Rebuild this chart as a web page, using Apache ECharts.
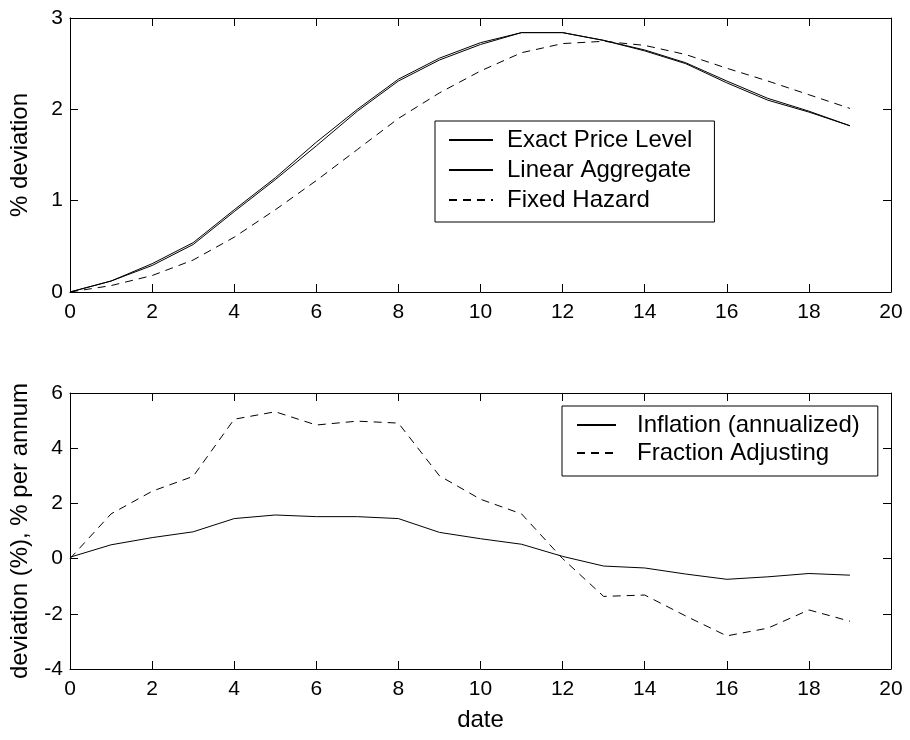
<!DOCTYPE html>
<html><head><meta charset="utf-8">
<script src="https://cdn.jsdelivr.net/npm/echarts@6/dist/echarts.min.js"></script>
<style>html,body{margin:0;padding:0;background:#fff}#c{width:910px;height:740px}</style>
</head><body><div id="c"></div>
<script>
const dates = [0,1,2,3,4,5,6,7,8,9,10,11,12,13,14,15,16,17,18,19];
const exactPrice = [0,0.12,0.31,0.54,0.90,1.25,1.64,2.00,2.33,2.56,2.73,2.84,2.84,2.755,2.65,2.51,2.31,2.12,1.98,1.82];
const linearAgg  = [0,0.12,0.29,0.52,0.88,1.23,1.60,1.98,2.31,2.54,2.71,2.84,2.84,2.755,2.64,2.50,2.29,2.10,1.97,1.82];
const fixedHazard= [0,0.07,0.18,0.35,0.60,0.90,1.22,1.56,1.90,2.18,2.42,2.62,2.72,2.745,2.70,2.60,2.45,2.31,2.16,2.01];
const inflation  = [0.05,0.50,0.76,0.97,1.45,1.58,1.52,1.52,1.45,0.95,0.72,0.52,0.08,-0.27,-0.34,-0.56,-0.75,-0.66,-0.54,-0.60];
const fracAdj    = [0,1.62,2.44,2.98,5.05,5.32,4.84,4.98,4.91,3.0,2.15,1.62,0.0,-1.37,-1.32,-2.08,-2.80,-2.52,-1.86,-2.27];
const xTicks = {min:0,max:20,interval:2};
const topY = {min:0,max:3,interval:1};
const botY = {min:-4,max:6,interval:2};

const FONT = 'Liberation Sans, Arial, sans-serif';
const pairs = a => dates.map((d,i)=>[d,a[i]]);
const lineAx = {show:true,onZero:false,lineStyle:{color:'#000',width:1}};
const tickIn = {show:true,inside:true,length:8,lineStyle:{color:'#000',width:1}};
const lbl = {color:'#000',fontFamily:FONT,fontSize:21};
const nameStyle = {color:'#000',fontFamily:FONT,fontSize:24};

function xAxes(grid, name){
  return [
    {type:'value',gridIndex:grid,position:'bottom',min:xTicks.min,max:xTicks.max,interval:xTicks.interval,
     axisLine:lineAx,axisTick:tickIn,splitLine:{show:false},
     axisLabel:Object.assign({margin:10},lbl),
     name:name||'',nameLocation:'middle',nameGap:39,nameTextStyle:nameStyle},
    {type:'value',gridIndex:grid,position:'top',min:xTicks.min,max:xTicks.max,interval:xTicks.interval,
     axisLine:lineAx,axisTick:tickIn,splitLine:{show:false},axisLabel:{show:false}}
  ];
}
function yAxes(grid, r, name, gap){
  return [
    {type:'value',gridIndex:grid,position:'left',min:r.min,max:r.max,interval:r.interval,
     axisLine:lineAx,axisTick:tickIn,splitLine:{show:false},
     axisLabel:Object.assign({margin:7},lbl),
     name:name,nameLocation:'middle',nameGap:gap,nameRotate:90,nameTextStyle:nameStyle},
    {type:'value',gridIndex:grid,position:'right',min:r.min,max:r.max,interval:r.interval,
     axisLine:lineAx,axisTick:tickIn,splitLine:{show:false},axisLabel:{show:false}}
  ];
}
function ser(name, data, xi, yi, dashed){
  return {type:'line',name:name,data:pairs(data),xAxisIndex:xi,yAxisIndex:yi,symbol:'none',silent:true,
    animation:false,lineStyle:{color:'#000',width:1,type:dashed?[8,6]:'solid'},itemStyle:{color:'#000'}};
}
const legendCommon = {orient:'vertical',itemHeight:10,
  backgroundColor:'#fff',borderColor:'#000',borderWidth:1,
  itemStyle:{color:'rgba(0,0,0,0)',borderWidth:0,opacity:0},
  textStyle:{color:'#000',fontFamily:FONT,fontSize:24}};

const chart = echarts.init(document.getElementById('c'),null,{renderer:'canvas'});
chart.setOption({
  animation:false,
  backgroundColor:'#fff',
  grid:[{left:67,right:19,top:18,height:274},{left:67,right:19,top:393,height:276}],
  xAxis:[...xAxes(0,''),...xAxes(1,'date')],
  yAxis:[...yAxes(0,topY,'% deviation',38),...yAxes(1,botY,'deviation (%), % per annum',38)],
  legend:[
    Object.assign({},legendCommon,{left:435,top:121,padding:[7,22,10,13],itemWidth:44,itemGap:6,
      textStyle:Object.assign({},legendCommon.textStyle,{padding:[0,0,0,9]}),
      data:['Exact Price Level','Linear Aggregate','Fixed Hazard']}),
    Object.assign({},legendCommon,{left:562,top:406,padding:[7,18,11,14],itemWidth:39,itemGap:4,
      textStyle:Object.assign({},legendCommon.textStyle,{padding:[0,0,0,16]}),
      data:['Inflation (annualized)','Fraction Adjusting']})
  ],
  series:[
    ser('Exact Price Level',exactPrice,0,0,false),
    ser('Linear Aggregate',linearAgg,0,0,false),
    ser('Fixed Hazard',fixedHazard,0,0,true),
    ser('Inflation (annualized)',inflation,2,2,false),
    ser('Fraction Adjusting',fracAdj,2,2,true)
  ]
});
</script></body></html>
